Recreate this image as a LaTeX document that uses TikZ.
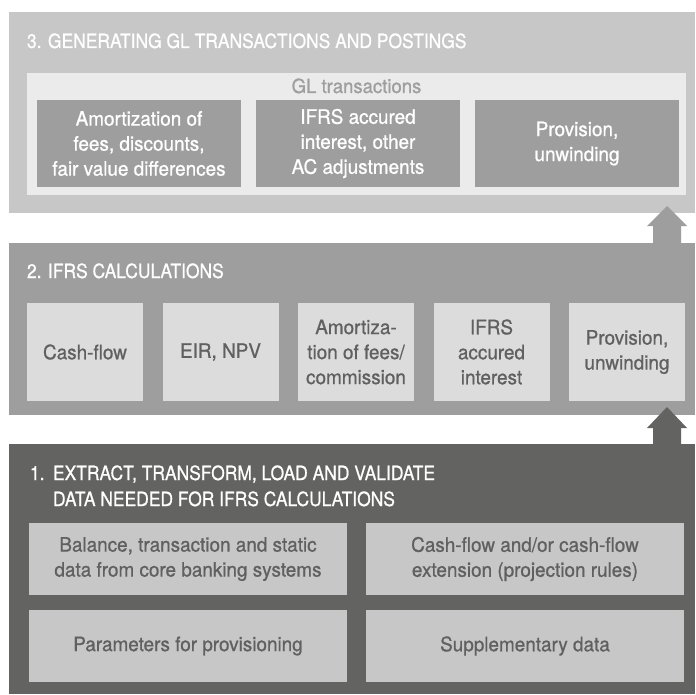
\documentclass[tikz,border=0pt]{standalone}
\usepackage{fontspec}
\setmainfont{TeX Gyre Heros}[FakeStretch=0.95,FakeBold=0.8]
\newfontfamily\titlefont{TeX Gyre Heros}[FakeStretch=0.89,FakeBold=0.8]
\usetikzlibrary{calc}
\definecolor{cdark}{HTML}{636362}
\definecolor{cmid}{HTML}{9D9E9D}
\definecolor{clight}{HTML}{C6C7C6}
\definecolor{cpale}{HTML}{DCDCDC}
\definecolor{cinner}{HTML}{EBEBEB}
\definecolor{ctext}{HTML}{606060}
\begin{document}
\begin{tikzpicture}[x=1pt,y=-1pt,
  panel/.style={inner sep=0pt, outer sep=0pt, anchor=north west, draw=none},
  ttl/.style={inner sep=0pt, outer sep=0pt, anchor=base west, text=white, align=left,
    font=\titlefont\fontsize{19.6}{22}\selectfont},
  boxtxt/.style={inner sep=0pt, outer sep=0pt, anchor=north west, align=center,
    font=\fontsize{19.9}{25}\selectfont},
  glbox/.style={boxtxt, fill=cmid, text=white, minimum width=204pt, minimum height=87pt},
  calcbox/.style={boxtxt, fill=cpale, text=ctext, minimum width=116pt, minimum height=98pt},
  databox/.style={boxtxt, fill=clight, text=ctext, minimum width=318pt, minimum height=72pt},
]
\useasboundingbox (0,0) rectangle (695,695);
\fill[white] (0,0) rectangle (695,695);

% Panel 3
\node[panel, fill=clight, minimum width=686pt, minimum height=201pt] (p3) at (9,12) {};
\node[ttl] (t3) at (27,48) {3. GENERATING GL TRANSACTIONS AND POSTINGS};
\node[panel, fill=cinner, minimum width=659pt, minimum height=122pt] (gl) at (27,73) {};
\node[inner sep=0pt, anchor=base, text=cmid, font=\fontsize{19.5}{22}\selectfont] (glt) at (356.5,93) {GL transactions};
\node[glbox] (g1) at (37,100) {Amortization of\\fees, discounts,\\fair value differences};
\node[glbox] (g2) at (256,100) {IFRS accured\\interest, other\\AC adjustments};
\node[glbox] (g3) at (475,100) {Provision,\\unwinding};

% Panel 2
\node[panel, fill=cmid, minimum width=686pt, minimum height=172pt] (p2) at (9,243) {};
\node[ttl] (t2) at (27,278) {2. IFRS CALCULATIONS};
\node[calcbox] (c1) at (27,303) {Cash-flow};
\node[calcbox] (c2) at (162.5,303) {EIR, NPV};
\node[calcbox] (c3) at (298,303) {Amortiza-\\tion of fees/\\commission};
\node[calcbox] (c4) at (433.5,303) {IFRS\\accured\\interest};
\node[calcbox] (c5) at (569,303) {Provision,\\unwinding};

% Arrow 2 -> 3
\coordinate (arr1) at ($(p2.north east)+(-28,0)$);
\fill[cmid] ($(arr1)+(-14,0)$) -- ++(0,-17) -- ++(-6,0) -- ++(20,-20) -- ++(20,20) -- ++(-6,0) -- ++(0,17) -- cycle;

% Panel 1
\node[panel, fill=cdark, minimum width=686pt, minimum height=250pt] (p1) at (9,444) {};
\node[ttl] (t1n) at (30,480) {1.};
\node[ttl] (t1a) at (53,480) {EXTRACT, TRANSFORM, LOAD AND VALIDATE};
\node[ttl] (t1b) at (53,506) {DATA NEEDED FOR IFRS CALCULATIONS};
\node[databox] (d1) at (29,523) {Balance, transaction and static\\data from core banking systems};
\node[databox] (d2) at (366,523) {Cash-flow and/or cash-flow\\extension (projection rules)};
\node[databox] (d3) at (29,610) {Parameters for provisioning};
\node[databox] (d4) at (366,610) {Supplementary data};

% Arrow 1 -> 2
\coordinate (arr2) at ($(p1.north east)+(-28,0)$);
\fill[cdark] ($(arr2)+(-14,0)$) -- ++(0,-16) -- ++(-6,0) -- ++(20,-21) -- ++(20,21) -- ++(-6,0) -- ++(0,16) -- cycle;
\end{tikzpicture}
\end{document}
